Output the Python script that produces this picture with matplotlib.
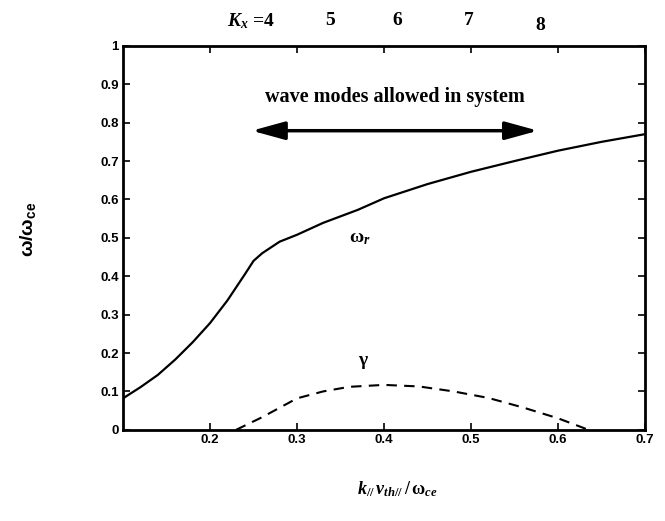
import matplotlib
matplotlib.use("Agg")
import matplotlib.pyplot as plt

plt.rcParams["mathtext.fontset"] = "custom"
plt.rcParams["mathtext.rm"] = "Liberation Serif:bold"
plt.rcParams["mathtext.it"] = "Liberation Serif:bold:italic"
plt.rcParams["mathtext.bf"] = "Liberation Serif:bold"
plt.rcParams["mathtext.sf"] = "Liberation Sans:bold"

# Real frequency of the mode
k_wr = [0.10, 0.12, 0.14, 0.16, 0.18, 0.20, 0.22, 0.24, 0.25, 0.26, 0.28,
        0.30, 0.33, 0.37, 0.40, 0.45, 0.50, 0.55, 0.60, 0.65, 0.70]
omega_r = [0.082, 0.111, 0.143, 0.183, 0.228, 0.278, 0.337, 0.405, 0.440, 0.460, 0.490,
           0.508, 0.539, 0.573, 0.603, 0.640, 0.672, 0.700, 0.727, 0.750, 0.770]

# Growth rate
k_gam = [0.23, 0.26, 0.30, 0.33, 0.36, 0.40, 0.44, 0.48, 0.52, 0.56, 0.60, 0.635]
gamma = [0.0, 0.033, 0.082, 0.100, 0.112, 0.117, 0.113, 0.100, 0.083, 0.058, 0.030, 0.0]

x_ticks = [0.2, 0.3, 0.4, 0.5, 0.6, 0.7]
x_ticklabels = ["0.2", "0.3", "0.4", "0.5", "0.6", "0.7"]
y_ticks = [0, 0.1, 0.2, 0.3, 0.4, 0.5, 0.6, 0.7, 0.8, 0.9, 1.0]
y_ticklabels = ["0", "0.1", "0.2", "0.3", "0.4", "0.5", "0.6", "0.7", "0.8", "0.9", "1"]

# Mode numbers along the top and their k positions
kx_labels = [r"$K_x$ =4", "5", "6", "7", "8"]
kx_pos = [0.247, 0.338, 0.415, 0.497, 0.579]
kx_heights = [1.065, 1.065, 1.065, 1.065, 1.052]

# Range of allowed modes
allowed_k = [0.248, 0.577]
allowed_level = 0.779

fig = plt.figure(figsize=(6.65, 5.21), dpi=100)
ax = fig.add_axes([0.185, 0.175, 0.785, 0.737])

ax.plot(k_wr, omega_r, color="black", lw=1.6)
ax.plot(k_gam, gamma, color="black", lw=1.5, dashes=(5, 3.5))

ax.set_xlim(0.1, 0.7)
ax.set_ylim(0, 1)
ax.set_xticks(x_ticks)
ax.set_xticklabels(x_ticklabels)
ax.set_yticks(y_ticks)
ax.set_yticklabels(y_ticklabels)
for lab in ax.get_xticklabels() + ax.get_yticklabels():
    lab.set_fontfamily("Liberation Sans")
    lab.set_fontweight("bold")
    lab.set_fontsize(9.5)
ax.tick_params(direction="in", length=5, width=1.2, top=True, right=True, pad=3)
for s in ax.spines.values():
    s.set_linewidth(2.0)

# Double-headed arrow marking the allowed range
ax.annotate("", xy=(allowed_k[1], allowed_level), xytext=(allowed_k[0], allowed_level),
            arrowprops=dict(arrowstyle="<|-|>,head_length=2.0,head_width=0.55",
                            color="black", lw=2.5, shrinkA=0, shrinkB=0))
ax.text(0.413, 0.867, "wave modes allowed in system", ha="center", va="center",
        fontfamily="Liberation Serif", fontweight="bold", fontsize=14.5)

ax.text(0.372, 0.50, r"$\mathrm{ω}_r$", ha="center", va="center", fontsize=14)
ax.text(0.376, 0.177, r"$\mathrm{γ}$", ha="center", va="center", fontsize=14)

# Mode numbers above the frame
for lab, kp, h in zip(kx_labels, kx_pos, kx_heights):
    ax.text(kp, h, lab, ha="center", va="center", transform=ax.get_xaxis_transform(),
            fontfamily="Liberation Serif", fontweight="bold", fontsize=14)

fig.text(0.042, 0.56, r"$\mathsf{ω/ω_{ce}}$", rotation=90, ha="center", va="center",
         fontsize=14)
fig.text(0.597, 0.062, r"$k_{//}\, v_{th//}\,/\,\mathrm{ω}_{ce}$", ha="center", va="center",
         fontsize=13)

fig.savefig("out.png", dpi=100)
